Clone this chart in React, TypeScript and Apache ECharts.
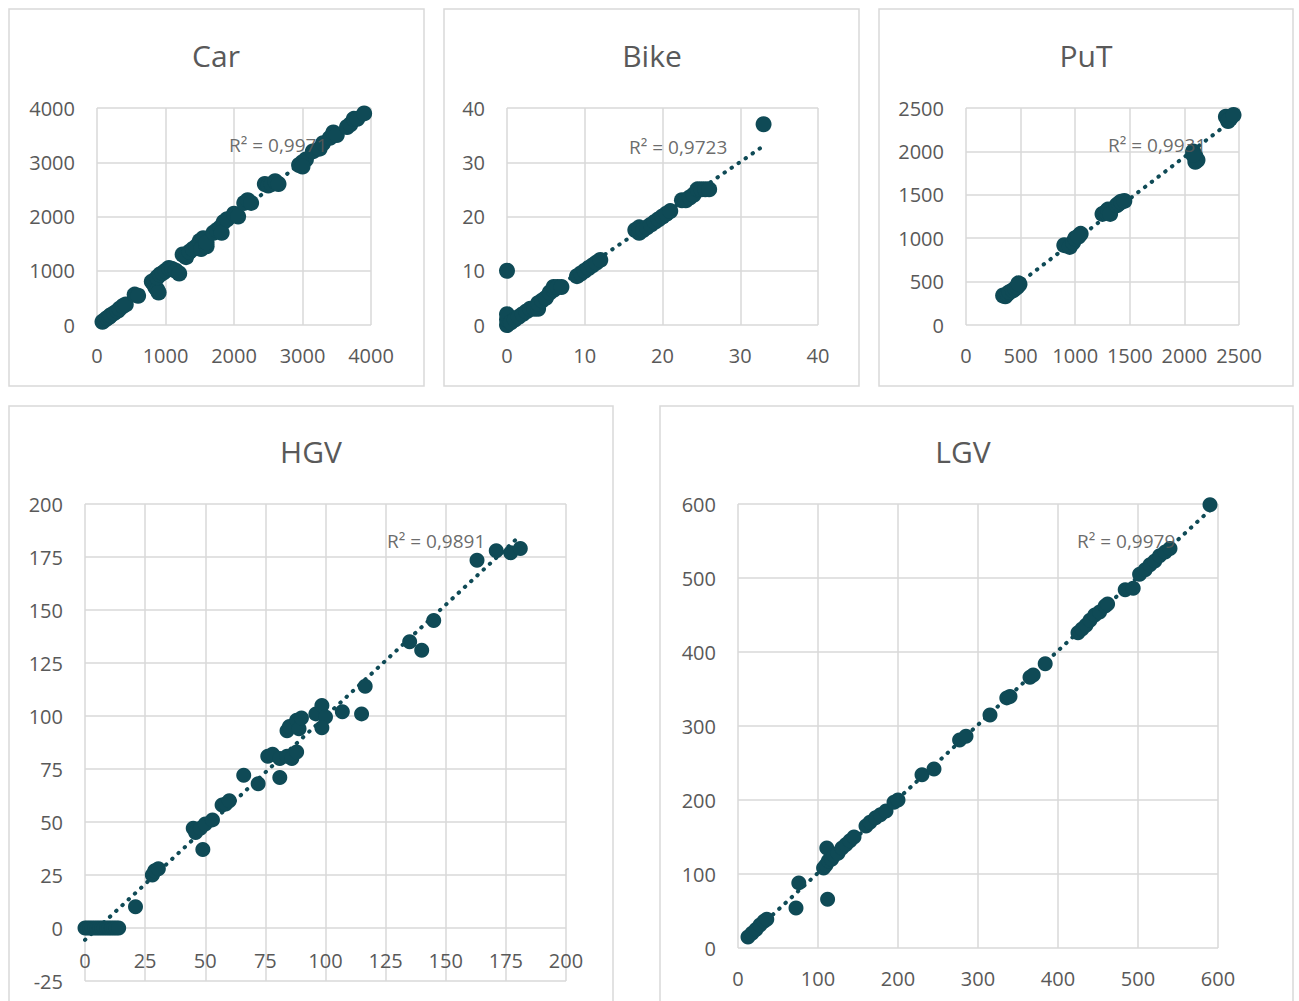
import React, { useEffect, useRef } from "react";
import * as echarts from "echarts";

// ---- data ----
const panelTitles = ["Car", "Bike", "PuT", "HGV", "LGV"];
const r2Labels = ["R² = 0,9971", "R² = 0,9723", "R² = 0,9931", "R² = 0,9891", "R² = 0,9979"];

const carPoints = [
  [80, 60], [120, 100], [150, 130], [180, 150], [200, 180], [250, 220], [300, 260], [330, 300], [380, 350], [420, 380],
  [550, 560], [600, 540],
  [800, 800], [830, 760], [850, 700], [880, 650], [900, 600], [880, 880], [920, 930], [960, 960], [1000, 1000],
  [1050, 1050], [1100, 1030], [1150, 1000], [1200, 950],
  [1250, 1300], [1300, 1250], [1350, 1350],
  [1400, 1400], [1450, 1450], [1500, 1550], [1550, 1600], [1520, 1400], [1600, 1450], [1600, 1520],
  [1700, 1700], [1750, 1750], [1800, 1800], [1850, 1900], [1820, 1700], [1900, 1950],
  [2000, 2050], [2060, 2000],
  [2150, 2250], [2200, 2300], [2250, 2250],
  [2450, 2600], [2500, 2570], [2550, 2600], [2600, 2650], [2650, 2600],
  [2950, 2950], [3000, 3000], [3050, 3050], [3000, 2920],
  [3150, 3200], [3250, 3250], [3300, 3350], [3400, 3450], [3450, 3550], [3500, 3500],
  [3650, 3650], [3700, 3700], [3750, 3800], [3800, 3800], [3900, 3900],
];

const bikePoints = [
  [0, 0], [0, 1], [0, 2], [0, 10], [0.5, 0.5], [1, 1], [1.5, 1.5], [2, 2], [2.5, 2.5], [3, 3], [3.5, 3], [4, 3],
  [4, 4], [4.5, 4.5], [5, 5], [5.5, 6], [6, 6.5], [6, 7], [6.5, 7], [7, 7],
  [9, 9], [9.5, 9.5], [10, 10], [10.5, 10.5], [11, 11], [11.5, 11.5], [12, 12],
  [16.5, 17.5], [17, 17], [17, 18], [17.5, 17.5], [18, 18], [18.5, 18.5], [19, 19], [19.5, 19.5], [20, 20],
  [20.5, 20.5], [21, 21],
  [22.5, 23], [23, 23], [23.5, 23.5], [24, 24], [24.5, 25], [25, 25], [25.5, 25], [26, 25],
  [33, 37],
];

const putPoints = [
  [340, 340], [360, 330], [380, 360], [400, 380], [430, 400], [450, 420], [470, 440], [490, 470], [480, 480],
  [900, 920], [950, 900], [980, 950], [1000, 1000], [1050, 1050], [1030, 1020],
  [1250, 1280], [1280, 1300], [1300, 1330], [1320, 1280],
  [1380, 1380], [1400, 1400], [1420, 1420], [1450, 1430],
  [2080, 2000], [2100, 1950], [2120, 1900], [2100, 1880], [2080, 1960],
  [2380, 2400], [2420, 2380], [2400, 2350], [2450, 2420],
];

const hgvPoints = [
  [0, 0], [1, 0], [2, 0], [3, 0], [4, 0], [5, 0], [6, 0], [7, 0], [8, 0], [9, 0], [10, 0], [11, 0], [12, 0], [13, 0], [14, 0],
  [21, 10], [28, 25], [29, 27], [30.5, 28],
  [45, 47], [46, 45], [48, 47], [50, 49], [53, 51], [49, 37],
  [57, 58], [58.5, 58.5], [60, 60], [66, 72], [72, 68],
  [76, 81], [78, 82], [81, 80], [81, 71], [84, 81], [86, 80], [88, 83],
  [84, 93], [85, 95], [88, 98], [89, 94], [90, 99],
  [96, 101], [98.5, 105], [100, 99.5], [98.5, 94.5], [107, 102], [115, 101], [116.5, 114],
  [135, 135], [140, 131], [145, 145], [163, 173.5], [171, 178], [177, 177], [181, 179],
];

const lgvPoints = [
  [12.5, 15], [17.5, 20], [22.5, 25], [27.5, 31], [32.5, 36], [36, 39],
  [72.5, 54], [76, 88], [107, 108], [110, 112], [113, 118], [111, 135], [117, 120], [120, 125], [112, 66],
  [125, 128], [130, 135], [135, 140], [140, 145], [145, 150],
  [160, 165], [165, 170], [172, 176], [178, 180], [185, 185], [195, 197], [200, 200],
  [230, 234], [245, 242], [277, 281], [285, 286], [315, 315], [336, 338], [340, 340],
  [365, 366], [369, 369], [384, 384],
  [425, 426], [430, 431], [435, 436], [440, 443], [446, 450], [452, 454], [459, 462], [462, 465],
  [484, 484], [494, 486],
  [502, 505], [509, 511], [515, 518], [521, 523], [527, 530], [534, 535], [540, 540],
  [590, 599],
];

const xRanges = [[0, 4000, 1000], [0, 40, 10], [0, 2500, 500], [0, 200, 25], [0, 600, 100]];
const yRanges = [[0, 4000, 1000], [0, 40, 10], [0, 2500, 500], [-25, 200, 25], [0, 600, 100]];

// ---- layout ----
const allPoints = [carPoints, bikePoints, putPoints, hgvPoints, lgvPoints];
const grids = [
  { left: 97, top: 108, width: 274, height: 217 },
  { left: 507, top: 108, width: 311, height: 217 },
  { left: 966, top: 108, width: 273, height: 217 },
  { left: 85, top: 504, width: 481, height: 477 },
  { left: 738, top: 504, width: 480, height: 444 },
];
// x-axis label distance: HGV's labels sit just under its zero line, not under the plot
const xLabelMargins = [20, 20, 20, -31, 20];
const markerSizes = [16, 16, 16, 15, 15];
const panels = [
  { x: 9, y: 9, w: 415, h: 377 },
  { x: 444, y: 9, w: 415, h: 377 },
  { x: 879, y: 9, w: 414, h: 377 },
  { x: 9, y: 406, w: 604, h: 620 },
  { x: 660, y: 406, w: 633, h: 620 },
];
const titlePos = [[216, 55], [652, 55], [1086, 55], [311, 451], [963, 451]];
const r2Pos = [[229, 145], [629, 147], [1108, 145], [387, 541], [1077, 541]];

const MARK = "#0f4a56";
const GRID = "#d9d9d9";
const TXT = "#595959";
const FONT = "'Open Sans', 'Noto Sans', sans-serif";

function linreg(pts: number[][]) {
  const n = pts.length;
  let sx = 0, sy = 0, sxx = 0, sxy = 0;
  for (const [x, y] of pts) { sx += x; sy += y; sxx += x * x; sxy += x * y; }
  const b = (n * sxy - sx * sy) / (n * sxx - sx * sx);
  const a = (sy - b * sx) / n;
  const xs = pts.map((p) => p[0]);
  const x0 = Math.min(...xs), x1 = Math.max(...xs);
  return [[x0, a + b * x0], [x1, a + b * x1]];
}

export default function App() {
  const ref = useRef<HTMLDivElement>(null);
  useEffect(() => {
    if (!ref.current) return;
    const chart = echarts.init(ref.current, undefined, { renderer: "svg" });
    const labelBase = {
      color: TXT, fontSize: 20, fontFamily: FONT,
      formatter: (v: number) => String(v),
    };
    const splitLine = { show: true, lineStyle: { color: GRID, width: 1.5 } };
    const series: any[] = [];
    allPoints.forEach((pts, i) => {
      series.push({
        type: "line",
        xAxisIndex: i,
        yAxisIndex: i,
        data: linreg(pts),
        showSymbol: false,
        symbol: "none",
        silent: true,
        z: 2,
        lineStyle: { color: MARK, width: 4, type: [0.5, 8], cap: "round" },
      });
      series.push({
        type: "scatter",
        xAxisIndex: i,
        yAxisIndex: i,
        data: pts,
        symbolSize: markerSizes[i],
        silent: true,
        z: 3,
        itemStyle: { color: MARK, opacity: 1 },
      });
    });
    const graphic: any[] = [];
    panels.forEach((p) => {
      graphic.push({
        type: "rect",
        shape: { x: p.x, y: p.y, width: p.w, height: p.h },
        style: { fill: "none", stroke: GRID, lineWidth: 1.5 },
        z: 0,
        silent: true,
      });
    });
    panelTitles.forEach((t, i) => {
      graphic.push({
        type: "text",
        x: titlePos[i][0],
        y: titlePos[i][1],
        z: 10,
        style: {
          text: t, fill: TXT, fontSize: 30, fontFamily: FONT,
          align: "center", verticalAlign: "middle", textAlign: "center", textVerticalAlign: "middle",
        },
      });
    });
    r2Labels.forEach((t, i) => {
      graphic.push({
        type: "text",
        x: r2Pos[i][0],
        y: r2Pos[i][1],
        z: 10,
        style: {
          text: t, fill: TXT, fontSize: 19, fontFamily: FONT, opacity: 0.9,
          align: "left", verticalAlign: "middle", textAlign: "left", textVerticalAlign: "middle",
        },
      });
    });
    chart.setOption({
      animation: false,
      backgroundColor: "#ffffff",
      textStyle: { fontFamily: FONT },
      grid: grids.map((g) => ({ ...g, containLabel: false, outerBoundsMode: "none" })),
      xAxis: xRanges.map((r, i) => ({
        type: "value",
        gridIndex: i,
        min: r[0],
        max: r[1],
        interval: r[2],
        axisLine: { show: false, onZero: false },
        axisTick: { show: false },
        axisLabel: { ...labelBase, margin: xLabelMargins[i] },
        splitLine,
      })),
      yAxis: yRanges.map((r, i) => ({
        type: "value",
        gridIndex: i,
        min: r[0],
        max: r[1],
        interval: r[2],
        axisLine: { show: false, onZero: false },
        axisTick: { show: false },
        axisLabel: { ...labelBase, margin: 22 },
        splitLine,
      })),
      series,
      graphic,
    });
    return () => chart.dispose();
  }, []);
  return (
    <div
      ref={ref}
      style={{ position: "fixed", left: 0, top: 0, width: 1299, height: 1001, background: "#fff" }}
    />
  );
}
